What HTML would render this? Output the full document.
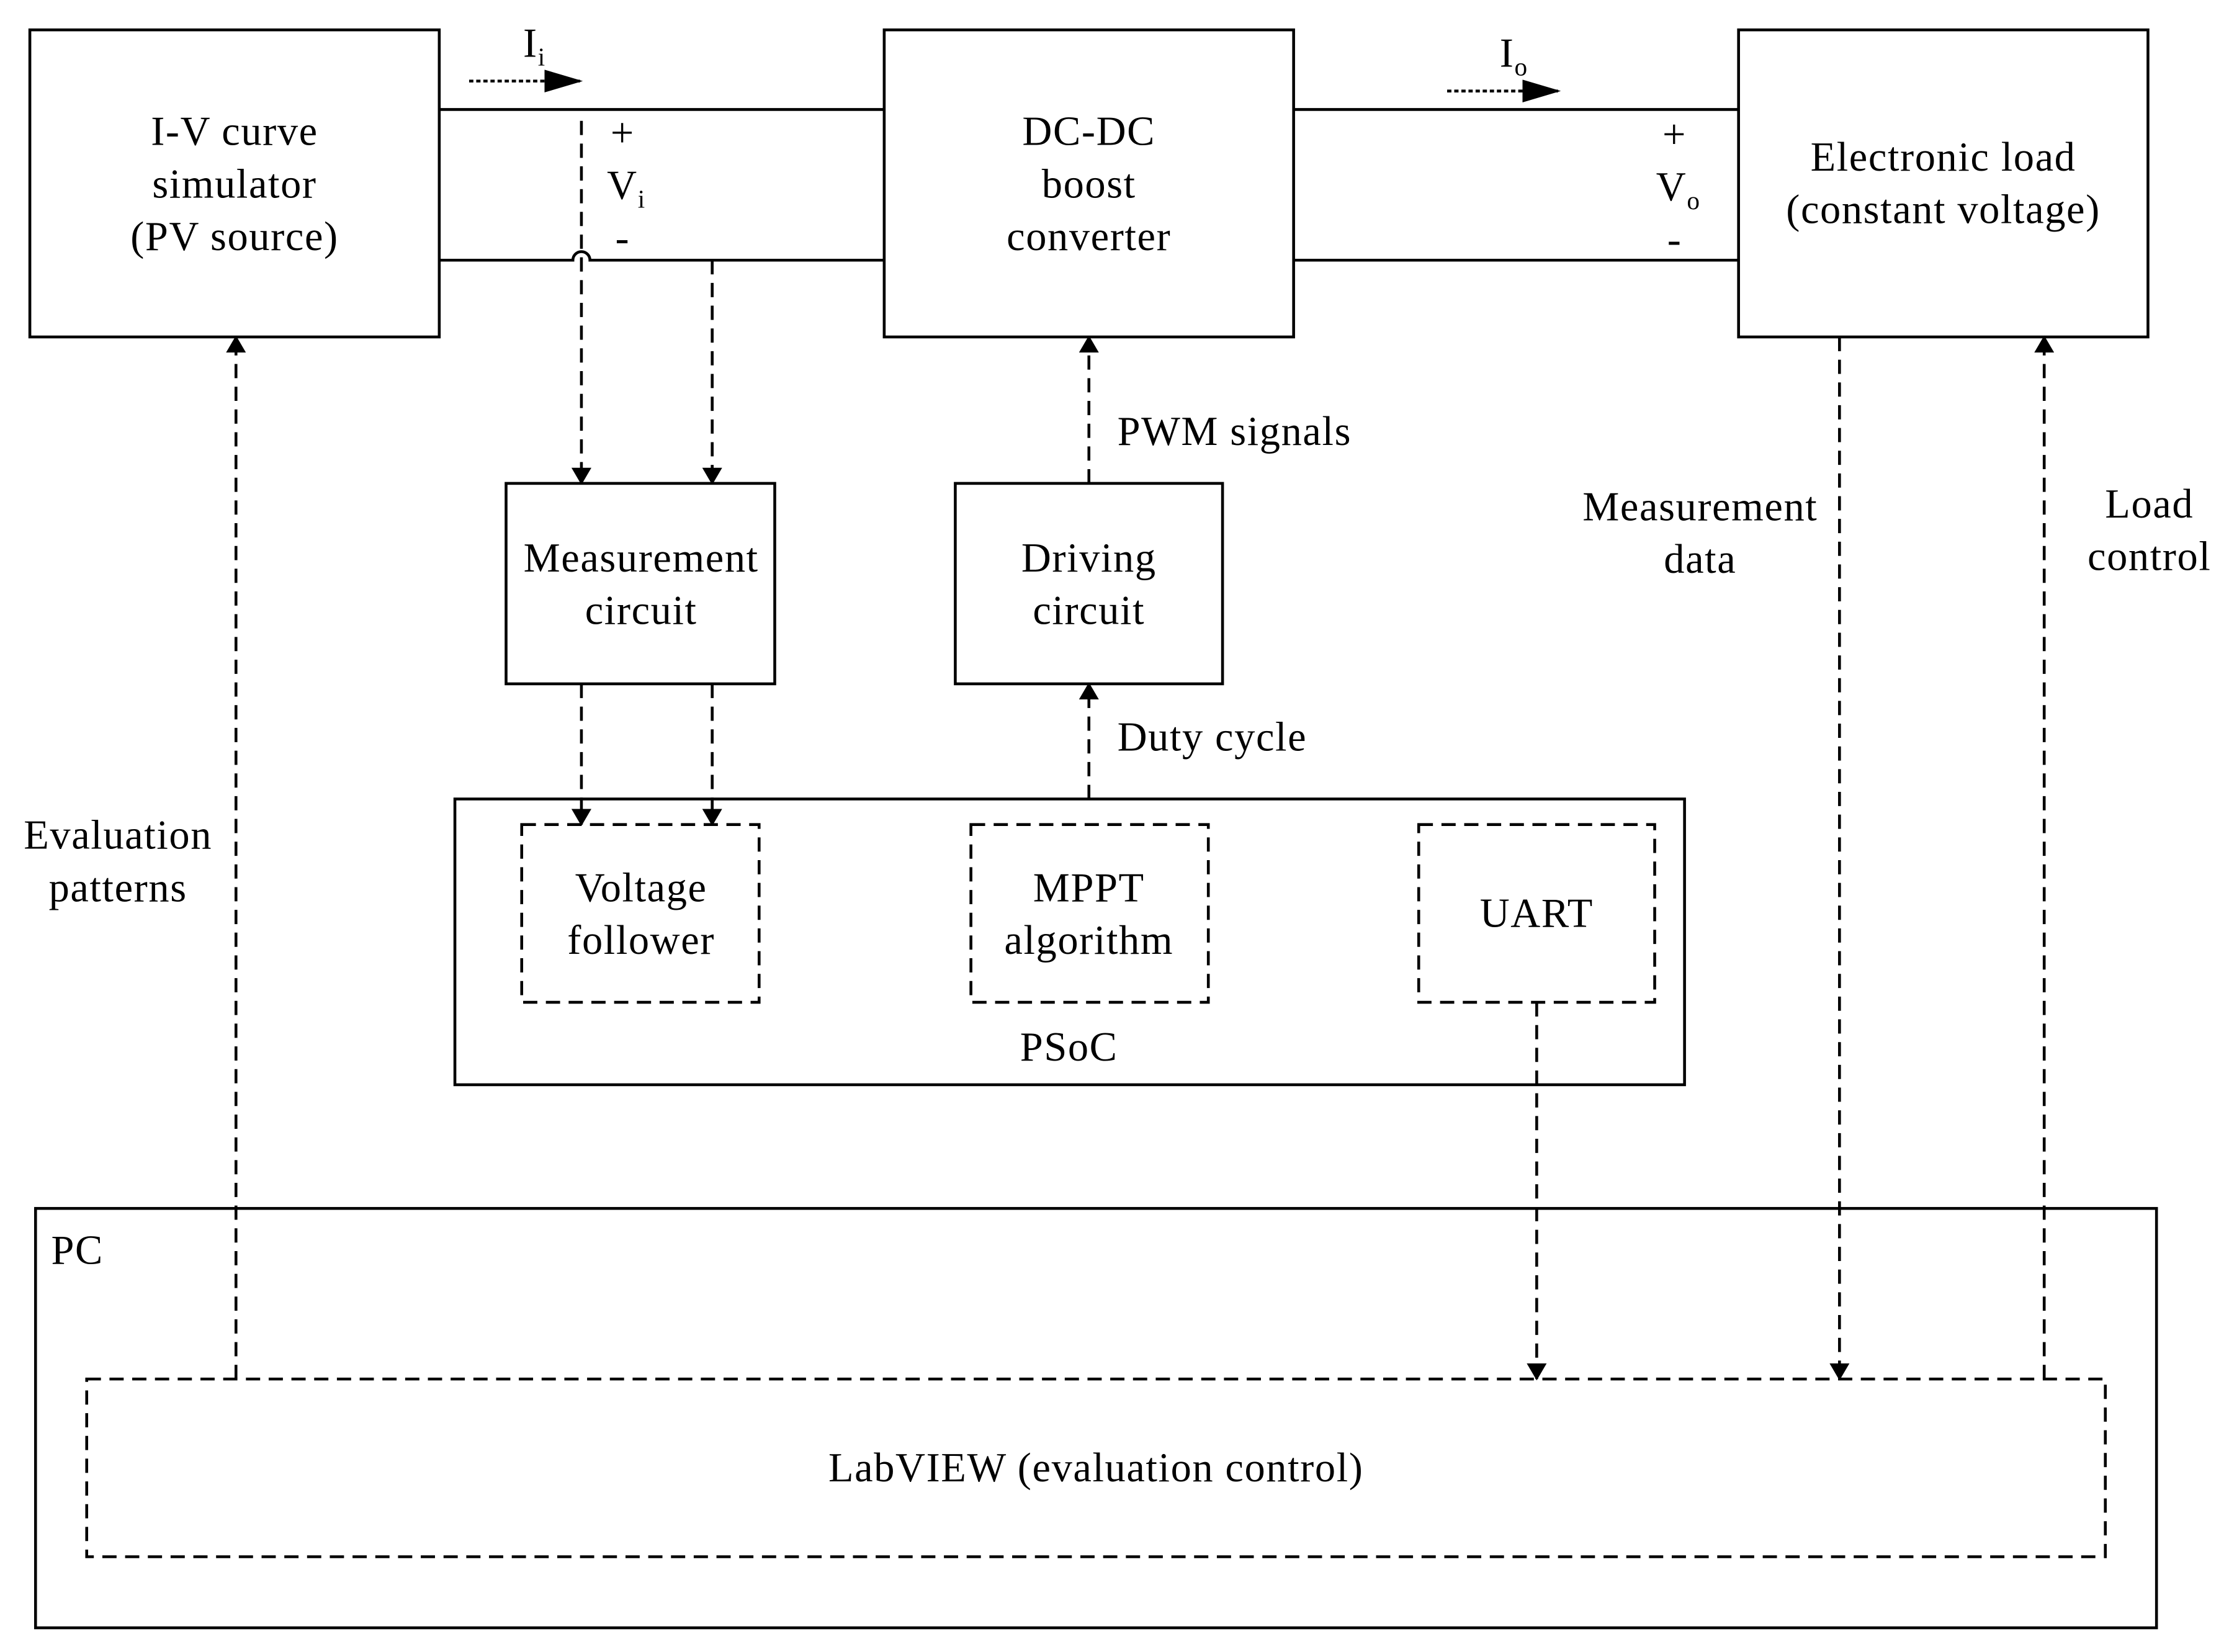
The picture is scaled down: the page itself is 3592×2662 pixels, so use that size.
<!DOCTYPE html>
<html><head><meta charset="utf-8"><style>
html,body{margin:0;padding:0;background:#fff;}
svg{display:block;}
text{font-family:"Liberation Serif",serif;font-size:29px;letter-spacing:0.7px;fill:#000;}
</style></head><body>
<svg width="3592" height="2662" viewBox="0 0 1568 1162" xmlns="http://www.w3.org/2000/svg">
<defs>
<marker id="a" markerWidth="12" markerHeight="14" refX="11" refY="7" orient="auto" markerUnits="userSpaceOnUse">
<path d="M0,0 L12,7 L0,14 z" fill="#000"/></marker>
<marker id="b" markerWidth="28" markerHeight="16" refX="27" refY="8" orient="auto" markerUnits="userSpaceOnUse">
<path d="M0,0 L27,8 L0,16 z" fill="#000"/></marker>
</defs>
<g fill="none" stroke="#000" stroke-width="2">
<rect x="21" y="21" width="288" height="216"/>
<rect x="622" y="21" width="288" height="216"/>
<rect x="1223" y="21" width="288" height="216"/>
<rect x="356" y="340" width="189" height="141"/>
<rect x="672" y="340" width="188" height="141"/>
<rect x="320" y="562" width="865" height="201"/>
<rect x="25" y="850" width="1492" height="295"/>
<g stroke-dasharray="10,6">
<rect x="367" y="580" width="167" height="125"/>
<rect x="683" y="580" width="167" height="125"/>
<rect x="998" y="580" width="166" height="125"/>
<rect x="61" y="970" width="1420" height="125"/>
</g>
<line x1="309" y1="77" x2="622" y2="77"/>
<path d="M309,183 H403 A6,6 0 0 1 415,183 H622"/>
<line x1="910" y1="77" x2="1223" y2="77"/>
<line x1="910" y1="183" x2="1223" y2="183"/>
<line x1="330" y1="57" x2="410" y2="57" stroke-dasharray="3,2" marker-end="url(#b)"/>
<line x1="1018" y1="64" x2="1098" y2="64" stroke-dasharray="3,2" marker-end="url(#b)"/>
<g stroke-dasharray="10,6" marker-end="url(#a)">
<line x1="409" y1="85" x2="409" y2="340"/>
<line x1="501" y1="183" x2="501" y2="340"/>
<line x1="409" y1="481" x2="409" y2="580"/>
<line x1="501" y1="481" x2="501" y2="580"/>
<line x1="766" y1="562" x2="766" y2="481"/>
<line x1="766" y1="340" x2="766" y2="237"/>
<line x1="166" y1="970" x2="166" y2="237"/>
<line x1="1081" y1="705" x2="1081" y2="970"/>
<line x1="1294" y1="237" x2="1294" y2="970"/>
<line x1="1438" y1="970" x2="1438" y2="237"/>
</g>
</g>
<g text-anchor="middle">
<text x="165" y="102">I-V curve</text>
<text x="165" y="139">simulator</text>
<text x="165" y="176">(PV source)</text>
<text x="766" y="102">DC-DC</text>
<text x="766" y="139">boost</text>
<text x="766" y="176">converter</text>
<text x="1367" y="120">Electronic load</text>
<text x="1367" y="157">(constant voltage)</text>
<text x="451" y="402">Measurement</text>
<text x="451" y="439">circuit</text>
<text x="766" y="402">Driving</text>
<text x="766" y="439">circuit</text>
<text x="451" y="634">Voltage</text>
<text x="451" y="671">follower</text>
<text x="766" y="634">MPPT</text>
<text x="766" y="671">algorithm</text>
<text x="1081" y="652">UART</text>
<text x="752" y="746">PSoC</text>
<text x="771" y="1042">LabVIEW (evaluation control)</text>
<text x="83" y="597">Evaluation</text>
<text x="83" y="634">patterns</text>
<text x="1196" y="366">Measurement</text>
<text x="1196" y="403">data</text>
<text x="1512" y="364">Load</text>
<text x="1512" y="401">control</text>
<text x="438" y="103">+</text>
<text x="438" y="177">-</text>
<text x="1178" y="104">+</text>
<text x="1178" y="178">-</text>
</g>
<text x="786" y="313">PWM signals</text>
<text x="786" y="528">Duty cycle</text>
<text x="36" y="889">PC</text>
<text x="368" y="40">I<tspan font-size="18" dy="6">i</tspan></text>
<text x="1055" y="47">I<tspan font-size="18" dy="6">o</tspan></text>
<text x="427" y="140">V<tspan font-size="18" dy="6">i</tspan></text>
<text x="1165" y="141">V<tspan font-size="18" dy="6">o</tspan></text>
</svg>
</body></html>
